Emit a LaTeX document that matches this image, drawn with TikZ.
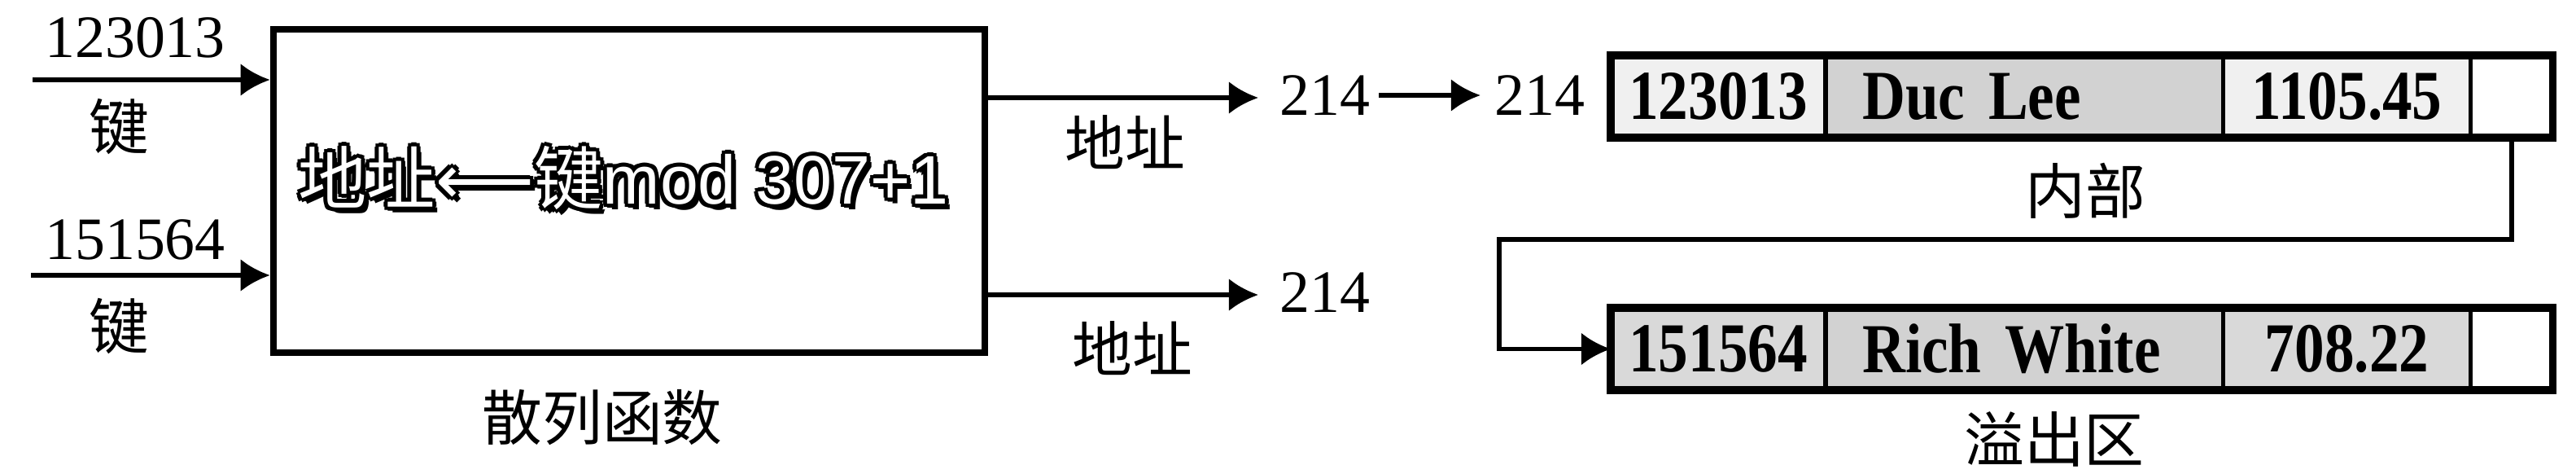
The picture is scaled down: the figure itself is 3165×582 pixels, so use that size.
\documentclass[tikz,border=0pt]{standalone}
\usepackage{fontspec}
\setmainfont{Liberation Serif}
\setsansfont{Liberation Sans}
\newfontfamily\cjk{Noto Sans CJK SC}
\newfontfamily\symfont{DejaVu Sans}
\newfontfamily\recfont[FakeStretch=0.85,WordSpace=0.6]{Liberation Serif}
\usetikzlibrary{arrows.meta,positioning}

\newcommand\ruletext{{\cjk 地址}{\symfont ⟵}{\cjk 键}mod 307+1}

\begin{document}
\begin{tikzpicture}[x=.01cm,y=-.01cm,
  lbl/.style={font=\fontsize{21}{24}\selectfont, inner sep=0pt},
  clbl/.style={font=\cjk\fontsize{21}{24}\selectfont, inner sep=0pt},
  rule/.style={font=\sffamily\fontsize{24}{27}\selectfont, inner sep=0pt},
  arr/.style={-{Latex[length=.36cm,width=.4cm]}, line width=1.6pt},
  cell/.style={draw, line width=1.6pt, minimum height=1.01cm, inner sep=0pt, outer sep=0pt,
    anchor=west, font=\recfont\bfseries\fontsize{24.5}{26}\selectfont},
  ]
\useasboundingbox (0,0) rectangle (3165,582);

% the hash function
\node[draw, line width=2.3pt, minimum width=8.74cm, minimum height=3.97cm] (hash) at (773,234.5) {};
\node[clbl] (hashname) at (740,513) {散列函数};

% rule drawn white on a black rim
\foreach \dx/\dy [count=\i] in {-4/-4,0/-5,4/-4,-5/0,5/0,-4/4,0/5,4/4,6/7}{
    \node[rule, text=black] (ruleback\i) at (766+\dx,219+\dy) {\ruletext};
}
\node[rule, text=white] (rule) at (766,219) {\ruletext};

% keys going in
\node[lbl] (key1) at (166,46) {123013};
\node[clbl] (key1c) at (146,156) {键};
\node[lbl] (key2) at (166,294) {151564};
\node[clbl] (key2c) at (146,401) {键};
\coordinate (in1) at (40,98);
\coordinate (in2) at (38,338);
\draw[arr] (in1) -- (in1 -| hash.west);
\draw[arr] (in2) -- (in2 -| hash.west);

% addresses coming out
\coordinate (out1) at (1546,120);
\coordinate (out2) at (1546,362);
\draw[arr] (hash.east |- out1) -- (out1);
\draw[arr] (hash.east |- out2) -- (out2);
\node[clbl] (addr1) at (1382,175) {地址};
\node[clbl] (addr2) at (1391,428) {地址};
\node[lbl] (adr1) at (1628,117) {214};
\node[lbl] (adr2) at (1628,359) {214};
\node[lbl] (adr3) at (1892,117) {214};
\draw[arr, shorten <=.1cm, shorten >=.17cm] (adr1) -- (adr3);

% records: inner area and overflow area
\node[cell, fill=gray!12, minimum width=2.64cm] (r1c1) at (1979,118.5) {123013};
\node[cell, fill=gray!35, text width=3.98cm, inner xsep=.45cm, align=left, right=0pt of r1c1] (r1c2) {Duc Lee};
\node[cell, fill=gray!12, minimum width=3.04cm, right=0pt of r1c2] (r1c3) {1105.45};
\node[cell, fill=white, minimum width=1.01cm, right=0pt of r1c3] (r1c4) {};
\draw[line width=2.6pt] (r1c1.north west) rectangle (r1c4.south east);
\node[clbl] (inner) at (2562,234) {内部};

\node[cell, fill=gray!30, minimum width=2.64cm] (r2c1) at (1979,428.5) {151564};
\node[cell, fill=gray!35, text width=3.98cm, inner xsep=.45cm, align=left, right=0pt of r2c1] (r2c2) {Rich White};
\node[cell, fill=gray!30, minimum width=3.04cm, right=0pt of r2c2] (r2c3) {708.22};
\node[cell, fill=white, minimum width=1.01cm, right=0pt of r2c3] (r2c4) {};
\draw[line width=2.6pt] (r2c1.north west) rectangle (r2c4.south east);
\node[clbl] (overflow) at (2524,539) {溢出区};

\coordinate (bend) at (1842,294);
\draw[arr] (r1c4.south) |- (bend) |- (r2c1.west);

\end{tikzpicture}
\end{document}
